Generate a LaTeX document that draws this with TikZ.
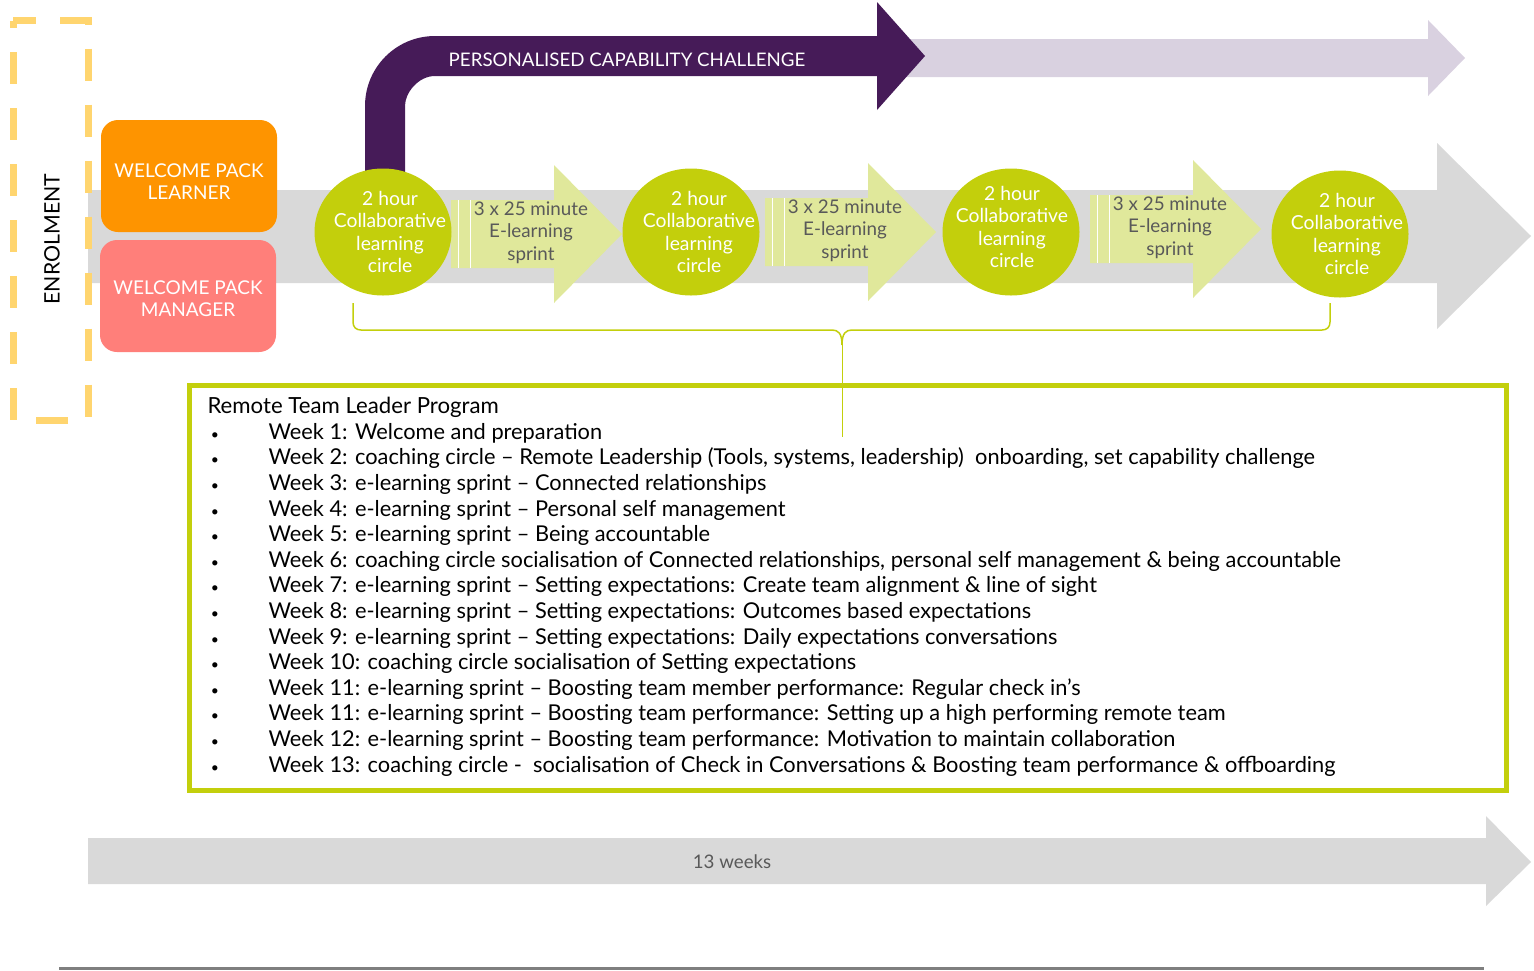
\documentclass[tikz,border=0pt]{standalone}
\usepackage{fontspec}
\setmainfont{Lato}
\usetikzlibrary{shapes,positioning,calc}

\definecolor{bargray}{HTML}{D9D9D9}
\definecolor{packorange}{HTML}{FE9400}
\definecolor{packsalmon}{HTML}{FF7F7A}
\definecolor{challenge}{HTML}{461B58}
\definecolor{challengelight}{HTML}{D9D1E0}
\definecolor{lime}{HTML}{C3CF0C}
\definecolor{limelight}{HTML}{E0E89B}
\definecolor{textgray}{HTML}{595959}
\definecolor{enrolyellow}{HTML}{FFD56F}
\definecolor{rulegray}{HTML}{7F7F7F}

\newcommand{\fsz}[2]{\fontsize{#1pt}{#2pt}\selectfont}

\begin{document}
\begin{tikzpicture}[
    x=1pt, y=-1pt,
    every node/.style={font=\fsz{18}{22.4}},
    packbox/.style={rounded corners=17pt, minimum width=176pt, minimum height=112pt,
        inner sep=0pt},
    packtext/.style={align=center, text=white, font=\fsz{19}{22}},
    circlenode/.style={ellipse, fill=lime, minimum width=137pt, minimum height=127pt,
        inner sep=0pt},
    circletext/.style={align=center, text=white, font=\fsz{19.3}{22.4}},
    sprinttext/.style={align=center, text=textgray, font=\fsz{18.8}{22.6}},
    listline/.style={anchor=base west, font=\fsz{21.8}{25.6}}
]
\useasboundingbox (0,0) rectangle (1534,970);

% Main grey arrow
\fill[bargray] (88,190) -- (1437,190) -- (1437,143) -- (1531,236) -- (1437,329)
    -- (1437,283) -- (88,283) -- cycle;

% Capability challenge arrows
\fill[challengelight] (880,39) -- (1428,39) -- (1428,20) -- (1465,58) -- (1428,96)
    -- (1428,77) -- (880,77) -- cycle;
\fill[challenge] (365,200) -- (365,106) .. controls (365,67.3) and (396.3,36) .. (435,36)
    -- (877,36) -- (877,2) -- (925,56) -- (877,110) -- (877,76) -- (435,76)
    .. controls (418.4,76) and (405,92.6) .. (405,106) -- (405,200) -- cycle;
\node[text=white, font=\fsz{18.7}{20}] (challengetext) at (627,60) {PERSONALISED CAPABILITY CHALLENGE};

% Welcome packs
\node[packbox, fill=packorange] (learner) at (189,176) {};
\node[packtext] (learnertext) at (189,181.5) {WELCOME PACK\\LEARNER};
\node[packbox, fill=packsalmon] (manager) at (188,296) {};
\node[packtext] (managertext) at (188,298.5) {WELCOME PACK\\MANAGER};

% E-learning sprints
\foreach \x/\y [count=\n] in {451/234, 765/232, 1090/229} {
    \fill[limelight] (\x,\y-34) -- (\x+103,\y-34) -- (\x+103,\y-69) -- (\x+171,\y)
        -- (\x+103,\y+69) -- (\x+103,\y+34) -- (\x,\y+34) -- cycle;
    \draw[white, line width=1pt] (\x+7,\y-34) -- (\x+7,\y+34);
    \draw[white, line width=1pt] (\x+19,\y-34) -- (\x+19,\y+34);
    \node[sprinttext] (sprint\n) at (\x+80,\y-1.5) {3 x 25 minute\\E-learning\\sprint};
}

% Learning circles
\foreach \x/\y/\dx/\dy [count=\n] in {383/232/7/0, 691/232/8/0, 1011/232/1/-5, 1340/234/7/0} {
    \node[circlenode] (circle\n) at (\x,\y) {};
    \node[circletext] (circletext\n) at ([xshift=\dx pt, yshift=-\dy pt]circle\n.center)
        {2 hour\\Collaborative\\learning\\circle};
}

% Bracket over the program
\coordinate (bl) at (353,303);
\coordinate (br) at (1330,303);
\coordinate (tip) at (842,345);
\coordinate (tail) at (842,437);
\draw[lime, line width=1.5pt] (bl) -- (353,322) .. controls (353,327) and (356,330) .. (361,330)
    -- (832,330) .. controls (838,330) and (842,333) .. (tip)
    .. controls (842,333) and (846,330) .. (852,330) -- (1322,330)
    .. controls (1327,330) and (1330,327) .. (1330,322) -- (br);
\draw[lime, line width=1pt] (tip) -- (tail);

% Program box
\node[draw=lime, line width=5pt, minimum width=1317pt, minimum height=405pt,
    inner sep=0pt] (program) at (848,588) {};
\node[listline, font=\fsz{22.2}{25.6}] (title) at (204,413.5) {Remote Team Leader Program};
\foreach \t [count=\i] in {
    {Week 1: Welcome and preparation},
    {Week 2: coaching circle – Remote Leadership (Tools, systems, leadership)\ \ onboarding, set capability challenge},
    {Week 3: e-learning sprint – Connected relationships},
    {Week 4: e-learning sprint – Personal self management},
    {Week 5: e-learning sprint – Being accountable},
    {Week 6: coaching circle socialisation of Connected relationships, personal self management \& being accountable},
    {Week 7: e-learning sprint – Setting expectations: Create team alignment \& line of sight},
    {Week 8: e-learning sprint – Setting expectations: Outcomes based expectations},
    {Week 9: e-learning sprint – Setting expectations: Daily expectations conversations},
    {Week 10: coaching circle socialisation of Setting expectations},
    {Week 11: e-learning sprint – Boosting team member performance: Regular check in’s},
    {Week 11: e-learning sprint – Boosting team performance: Setting up a high performing remote team},
    {Week 12: e-learning sprint – Boosting team performance: Motivation to maintain collaboration},
    {Week 13: coaching circle -\ \ socialisation of Check in Conversations \& Boosting team performance \& offboarding}} {
    \node[listline] (week\i) at (265,413.6+\i*25.6) {\t};
    \node[anchor=base, font=\fsz{14}{16}] (dot\i) at (215,413.6+\i*25.6) {\textbullet};
}

% Enrolment frame
\draw[enrolyellow, line width=7pt, dash pattern=on 32pt off 24pt, dash phase=9pt]
    (13,20.5) -- (88,20.5) -- (88,420.5) -- (13,420.5) -- cycle;
\node[rotate=90, font=\fsz{21.3}{22}] (enrol) at (52,239) {ENROLMENT};

% Duration arrow
\fill[bargray] (88,838) -- (1486,838) -- (1486,816) -- (1531,862) -- (1486,906)
    -- (1486,884) -- (88,884) -- cycle;
\node[text=textgray, font=\fsz{18.7}{20}] (weeks) at (732,862) {13 weeks};

% Bottom rule
\draw[rulegray, line width=2.5pt] (59,968.5) -- (1484,968.5);

\end{tikzpicture}
\end{document}
